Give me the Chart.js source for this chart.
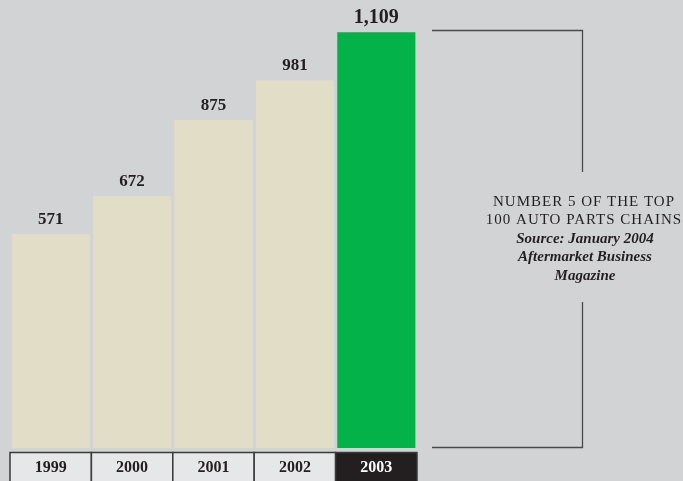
<!DOCTYPE html>
<html>
<head>
<meta charset="utf-8">
<script src="https://cdn.jsdelivr.net/npm/chart.js@4/dist/chart.umd.min.js"></script>
<style>
  html, body { margin: 0; padding: 0; background: #d2d3d5; }
  #wrap { width: 683px; height: 481px; position: relative; }
</style>
</head>
<body>
<div id="wrap"><canvas id="c" width="683" height="481"></canvas></div>
<script>
// Store count by year
const years = ['1999', '2000', '2001', '2002', '2003'];
const storeCounts = [571, 672, 875, 981, 1109];
const noteCaps = ['NUMBER 5 OF THE TOP', '100 AUTO PARTS CHAINS'];
const noteItalic = ['Source: January 2004', 'Aftermarket Business', 'Magazine'];

const BG = '#d2d3d5';
const BEIGE = '#e2ddc7';
const GREEN = '#04b24a';
const SERIF = '"Liberation Serif", "DejaVu Serif", serif';
const last = storeCounts.length - 1;

const fmt = v => v.toLocaleString('en-US');

const decor = {
  id: 'decor',
  beforeDraw(chart) {
    const ctx = chart.ctx;
    ctx.save();
    ctx.fillStyle = BG;
    ctx.fillRect(0, 0, chart.width, chart.height);
    ctx.restore();
  },
  afterDatasetsDraw(chart) {
    const ctx = chart.ctx;
    const x = chart.scales.x;
    const meta = chart.getDatasetMeta(0);
    const cw = (x.right - x.left) / years.length;
    ctx.save();

    // value labels above bars
    ctx.textAlign = 'center';
    ctx.textBaseline = 'alphabetic';
    ctx.fillStyle = '#231f20';
    meta.data.forEach((bar, i) => {
      const big = i === last;
      ctx.font = `bold ${big ? 20 : 17}px ${SERIF}`;
      ctx.fillText(fmt(storeCounts[i]), bar.x, bar.y - (big ? 9 : 10));
    });

    // year row
    const rowTop = 452.5;
    const rowBottom = chart.height + 2;
    years.forEach((yr, i) => {
      const cx = x.getPixelForValue(i);
      const l = cx - cw / 2, r = cx + cw / 2;
      ctx.fillStyle = i === last ? '#231f20' : '#e6e7e8';
      ctx.fillRect(l, rowTop, r - l, rowBottom - rowTop);
      ctx.strokeStyle = '#3a3a3a';
      ctx.lineWidth = 1.5;
      ctx.strokeRect(l, rowTop, r - l, rowBottom - rowTop);
      ctx.fillStyle = i === last ? '#ffffff' : '#231f20';
      ctx.font = `bold 16px ${SERIF}`;
      ctx.textBaseline = 'middle';
      ctx.fillText(yr, cx, 468);
    });

    // bracket
    const bx = 582.5;
    ctx.strokeStyle = '#4a4a4a';
    ctx.lineWidth = 1.3;
    ctx.beginPath();
    ctx.moveTo(432, 30.5); ctx.lineTo(bx, 30.5); ctx.lineTo(bx, 172);
    ctx.moveTo(bx, 302); ctx.lineTo(bx, 447.5); ctx.lineTo(432, 447.5);
    ctx.stroke();

    // note text
    ctx.fillStyle = '#231f20';
    ctx.textAlign = 'center';
    ctx.textBaseline = 'middle';
    ctx.font = `15px ${SERIF}`;
    if ('letterSpacing' in ctx) ctx.letterSpacing = '1px';
    noteCaps.forEach((t, i) => ctx.fillText(t, 584, 202 + i * 18));
    if ('letterSpacing' in ctx) ctx.letterSpacing = '0px';
    ctx.font = `italic bold 15px ${SERIF}`;
    noteItalic.forEach((t, i) => ctx.fillText(t, 585, 239 + i * 18.5));
    ctx.restore();
  }
};

new Chart(document.getElementById('c'), {
  type: 'bar',
  data: {
    labels: years,
    datasets: [{
      data: storeCounts,
      backgroundColor: storeCounts.map((_, i) => i === last ? GREEN : BEIGE),
      borderWidth: 0,
      barPercentage: 0.96,
      categoryPercentage: 1.0
    }]
  },
  options: {
    responsive: false,
    animation: false,
    devicePixelRatio: 1,
    layout: { padding: { left: 10, right: 266, top: 0, bottom: 33 } },
    plugins: { legend: { display: false }, tooltip: { enabled: false } },
    scales: {
      x: { display: false },
      y: { display: false, min: 0, max: 1195 }
    }
  },
  plugins: [decor]
});
</script>
</body>
</html>
